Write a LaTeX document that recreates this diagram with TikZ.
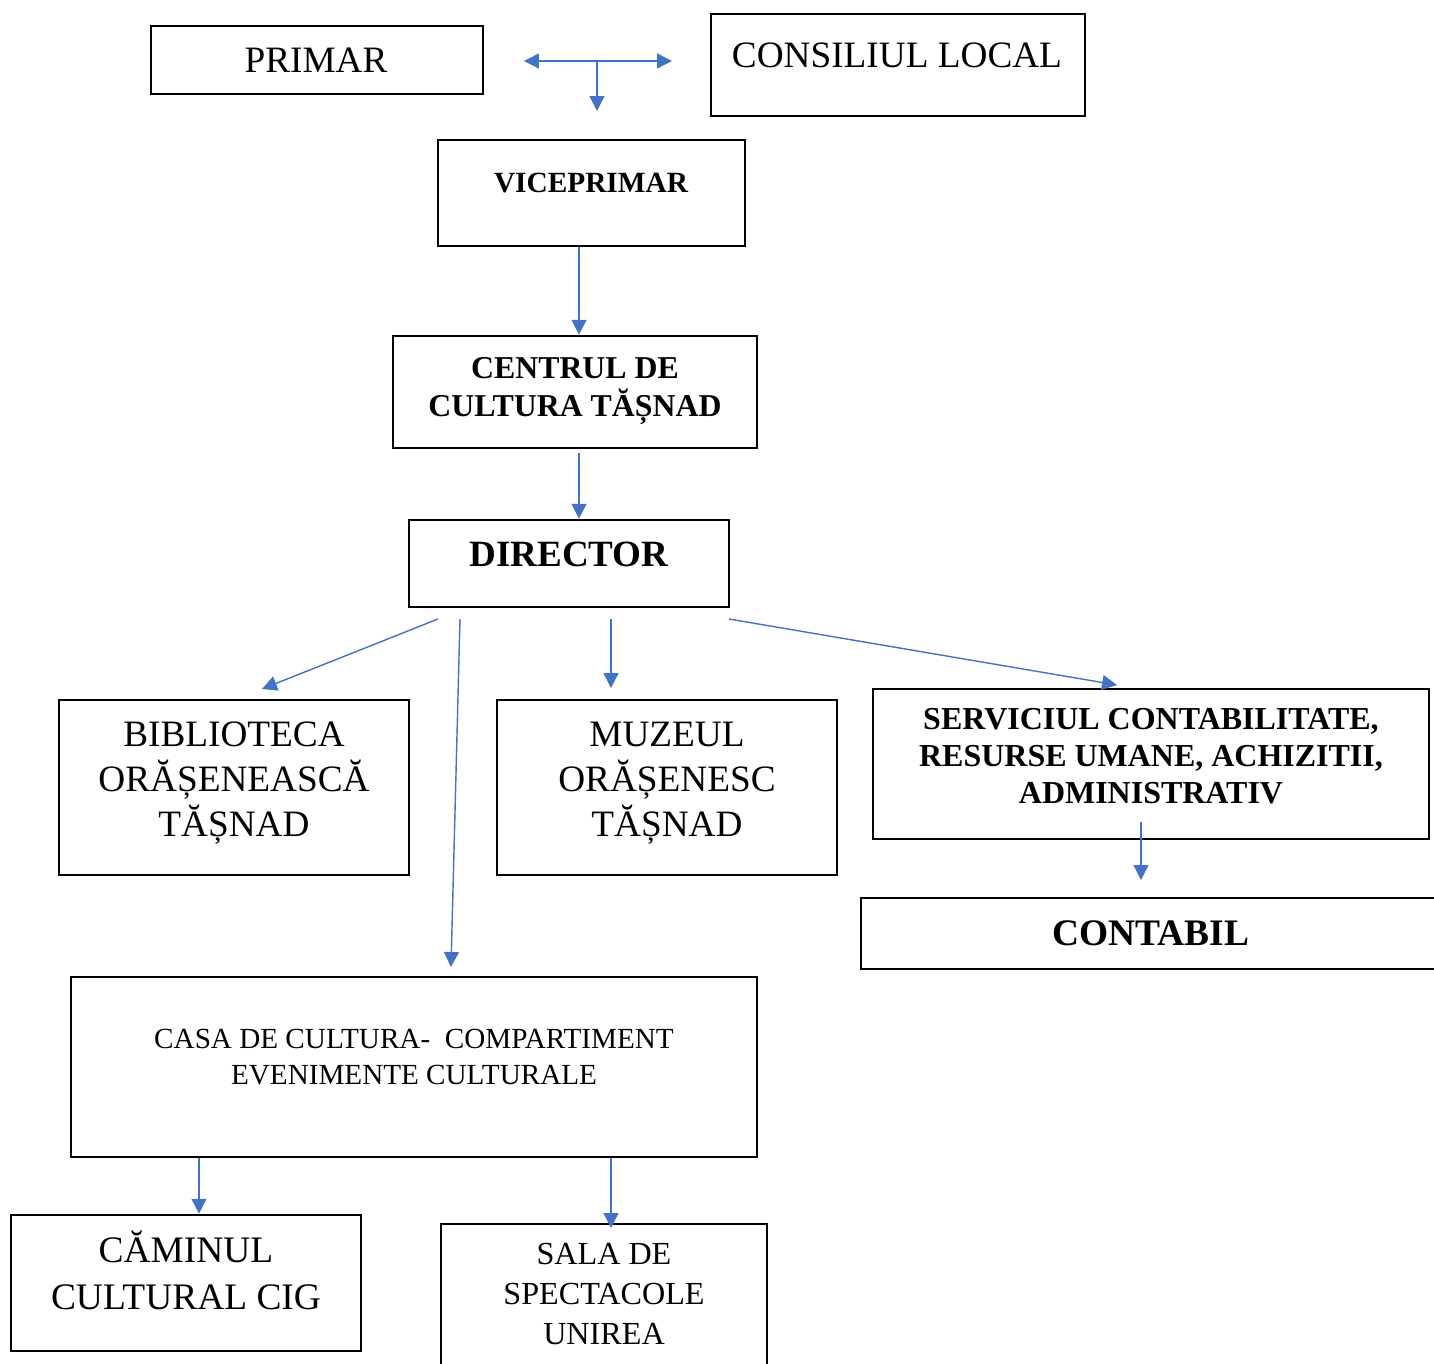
\documentclass[tikz,border=0pt]{standalone}
\usepackage{fontspec}
\setmainfont{Liberation Serif}
\usetikzlibrary{arrows.meta}
\definecolor{arrblue}{HTML}{4472C4}
\tikzset{
  box/.style={draw, line width=1.5pt, inner sep=0pt},
  lbl/.style={align=center, inner sep=0pt},
  arr/.style={arrblue, line width=0.8pt, -{Triangle[length=8.5pt,width=8.5pt]}},
  darr/.style={arrblue, line width=0.8pt, {Triangle[length=8.5pt,width=8.5pt]}-{Triangle[length=8.5pt,width=8.5pt]}},
}
\begin{document}
\begin{tikzpicture}[x=0.02cm, y=-0.02cm]
  \useasboundingbox (0,0) rectangle (1434,1364);
  % boxes
  \node[box, minimum width=6.64cm, minimum height=1.36cm] (primar) at (317,60) {};
  \node[box, minimum width=7.48cm, minimum height=2.04cm] (consiliu) at (898,65) {};
  \node[box, minimum width=6.14cm, minimum height=2.12cm] (vice) at (591.5,193) {};
  \node[box, minimum width=7.28cm, minimum height=2.24cm] (centrul) at (575,392) {};
  \node[box, minimum width=6.4cm, minimum height=1.74cm] (director) at (569,563.5) {};
  \node[box, minimum width=7cm, minimum height=3.5cm] (biblio) at (234,787.5) {};
  \node[box, minimum width=6.8cm, minimum height=3.5cm] (muzeu) at (667,787.5) {};
  \node[box, minimum width=11.12cm, minimum height=3cm] (serviciu) at (1151,764) {};
  \node[box, minimum width=11.58cm, minimum height=1.42cm] (contabil) at (1150.5,933.5) {};
  \node[box, minimum width=13.72cm, minimum height=3.6cm] (casa) at (414,1067) {};
  \node[box, minimum width=7cm, minimum height=2.72cm] (camin) at (186,1283) {};
  \node[box, minimum width=6.52cm, minimum height=3.12cm] (sala) at (604,1302) {};
  % texts
  \node[lbl, font=\fontsize{21.2}{25}\selectfont] (primar-t) at (316,60) {PRIMAR};
  \node[lbl, font=\fontsize{21.2}{25}\selectfont] (consiliu-t) at (897,55) {CONSILIUL LOCAL};
  \node[lbl, font=\fontsize{16.7}{20}\selectfont\bfseries] (vice-t) at (591,183) {VICEPRIMAR};
  \node[lbl, font=\fontsize{18.1}{22}\selectfont\bfseries] (centrul-t) at (575,391) {CENTRUL DE\\CULTURA TĂȘNAD};
  \node[lbl, font=\fontsize{21.1}{25}\selectfont\bfseries] (director-t) at (569,554) {DIRECTOR};
  \node[lbl, font=\fontsize{21.2}{25.5}\selectfont] (biblio-t) at (234,783) {BIBLIOTECA\\ORĂȘENEASCĂ\\TĂȘNAD};
  \node[lbl, font=\fontsize{21.2}{25.5}\selectfont] (muzeu-t) at (667,783) {MUZEUL\\ORĂȘENESC\\TĂȘNAD};
  \node[lbl, font=\fontsize{18.2}{21}\selectfont\bfseries] (serviciu-t) at (1151,756) {SERVICIUL CONTABILITATE,\\RESURSE UMANE, ACHIZITII,\\ADMINISTRATIV};
  \node[lbl, font=\fontsize{21.3}{25}\selectfont\bfseries] (contabil-t) at (1151,933) {CONTABIL};
  \node[lbl, font=\fontsize{16.6}{20}\selectfont] (casa-t) at (414,1057) {CASA DE CULTURA-~ COMPARTIMENT\\EVENIMENTE CULTURALE};
  \node[lbl, font=\fontsize{21.3}{26.6}\selectfont] (camin-t) at (186,1270) {CĂMINUL\\CULTURAL CIG};
  \node[lbl, font=\fontsize{18.3}{22.7}\selectfont] (sala-t) at (604,1294) {SALA DE\\SPECTACOLE\\UNIREA};
  % free ends of connectors
  \coordinate (left) at (524,61);
  \coordinate (right) at (672,61);
  \coordinate (mid) at (597,61);
  \coordinate (down) at (597,111);
  \coordinate (d1) at (438,619);
  \coordinate (d2) at (460,619);
  \coordinate (d3) at (611,619);
  \coordinate (d4) at (729,619);
  \coordinate (b1) at (262,689);
  \coordinate (c1) at (451,967);
  \coordinate (m1) at (611,688);
  \coordinate (s1) at (1117,685);
  \coordinate (s2) at (1141,822);
  \coordinate (k1) at (1141,880);
  \coordinate (c2) at (611,1228);
  % connectors
  \begin{scope}
    \draw[darr] (left) -- (right);
    \draw[arr] (mid) -- (down);
    \draw[arr] (vice.south -| 579,0) -- (centrul.north -| 579,0);
    \draw[arr] (579,453) -- (director.north -| 579,0);
    \draw[arr] (d1) -- (b1);
    \draw[arr] (d2) -- (c1);
    \draw[arr] (d3) -- (m1);
    \draw[arr] (d4) -- (s1);
    \draw[arr] (s2) -- (k1);
    \draw[arr] (casa.south -| 199,0) -- (camin.north -| 199,0);
    \draw[arr] (casa.south -| 611,0) -- (c2);
  \end{scope}
\end{tikzpicture}
\end{document}
